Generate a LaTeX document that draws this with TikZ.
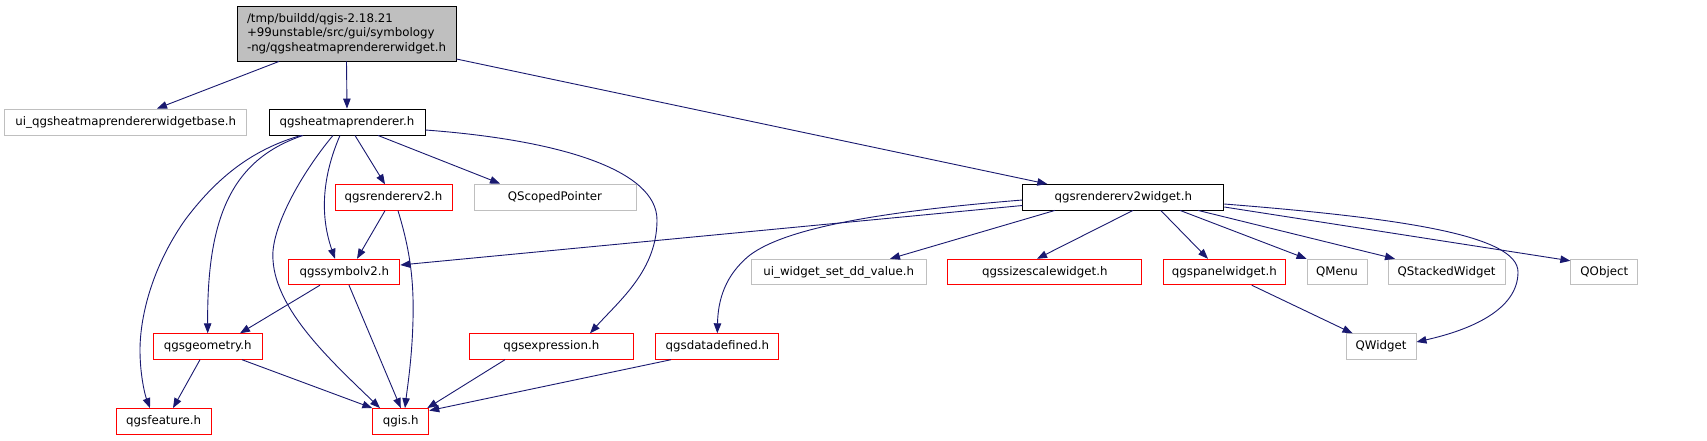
\documentclass[tikz,border=0pt]{standalone}
\usepackage{fontspec}
\setmainfont{DejaVu Sans}
\usetikzlibrary{arrows.meta}
\definecolor{edgeblue}{HTML}{191970}
\definecolor{lgray}{HTML}{BFBFBF}
\tikzset{
  box/.style={draw, rectangle, line width=0.9pt, inner sep=0pt, minimum height=25.5pt,
    font=\fontsize{11.8}{14.5}\selectfont, text=black},
  redbox/.style={box, draw=red},
  graybox/.style={box, draw=lgray},
  blackbox/.style={box, draw=black},
  edge/.style={draw=edgeblue, line width=0.9pt, -{Triangle[length=10pt,width=7.5pt]}, fill=none},
}
\begin{document}
\begin{tikzpicture}[x=1pt,y=-1pt]
\fill[white] (0,0) rectangle (1707,440);
\useasboundingbox (0,0) rectangle (1707,440);
% nodes
\node[blackbox, fill=lgray, minimum width=219pt, minimum height=55pt, text width=199pt, align=left] (main) at (346.5,33.5)
  {/tmp/buildd/qgis-2.18.21\\+99unstable/src/gui/symbology\\-ng/qgsheatmaprendererwidget.h};
\node[graybox, minimum width=242pt, minimum height=26pt] (uibase) at (125.7,122) {ui\_qgsheatmaprendererwidgetbase.h};
\node[blackbox, minimum width=156pt, minimum height=26pt] (heat) at (347,122) {qgsheatmaprenderer.h};
\node[redbox, minimum width=117pt] (rv2) at (393.5,197.5) {qgsrendererv2.h};
\node[graybox, minimum width=162pt, minimum height=26pt] (scoped) at (555,197) {QScopedPointer};
\node[redbox, minimum width=111pt] (sym) at (344.3,272) {qgssymbolv2.h};
\node[redbox, minimum width=109pt] (geom) at (207.7,346.5) {qgsgeometry.h};
\node[redbox, minimum width=95pt] (feat) at (163.7,421.3) {qgsfeature.h};
\node[redbox, minimum width=56pt] (qgis) at (400.8,421.3) {qgis.h};
\node[redbox, minimum width=164pt] (expr) at (551.3,346.5) {qgsexpression.h};
\node[redbox, minimum width=123pt] (dd) at (717.3,346.5) {qgsdatadefined.h};
\node[graybox, minimum width=175pt] (uidd) at (838.7,272) {ui\_widget\_set\_dd\_value.h};
\node[redbox, minimum width=194pt] (sizesc) at (1044.8,272) {qgssizescalewidget.h};
\node[blackbox, minimum width=201pt] (rv2w) at (1123.3,197.2) {qgsrendererv2widget.h};
\node[redbox, minimum width=122.7pt] (panel) at (1224.3,272) {qgspanelwidget.h};
\node[graybox, minimum width=60pt] (qmenu) at (1337,272) {QMenu};
\node[graybox, minimum width=117pt] (qstack) at (1446.5,272) {QStackedWidget};
\node[graybox, minimum width=67pt] (qobject) at (1604.3,272) {QObject};
\node[graybox, minimum width=70pt] (qwidget) at (1381,346.5) {QWidget};
% edges
\draw[edge] ([xshift=-67.5]main.south) -- ([xshift=31.3]uibase.north);
\draw[edge] (main.south) -- (heat.north);
\draw[edge] ([yshift=-25.5]main.east) -- ([xshift=-76]rv2w.north);
\draw[edge] ([xshift=8]heat.south) -- ([xshift=-8.5]rv2.north);
\draw[edge] ([xshift=31]heat.south) -- ([xshift=-55]scoped.north);
\draw[edge] ([yshift=-8]heat.east) .. controls (560,140) and (657,170) .. (657,220) .. controls (657,270) and (620,300) .. ([xshift=38.7]expr.north);
\draw[edge] ([xshift=-7]heat.south) .. controls (325,170) and (318,210) .. ([xshift=-9.3]sym.north);
\draw[edge] ([xshift=-14]heat.south) .. controls (300,175) and (270,230) .. (273,260) .. controls (276,310) and (330,360) .. ([xshift=-20.8]qgis.north);
\draw[edge] ([xshift=-44]heat.south) .. controls (230,160) and (207,220) .. (geom.north);
\draw[edge] ([xshift=-46]heat.south) .. controls (250,150) and (215,180) .. (185,220) .. controls (150,270) and (140,320) .. (140,350) .. controls (140,375) and (145,395) .. ([xshift=-13.7]feat.north);
\draw[edge] ([xshift=-8.5]rv2.south) -- ([xshift=12.7]sym.north);
\draw[edge] ([xshift=4.5]rv2.south) .. controls (410,250) and (414,280) .. (413,320) .. controls (412,360) and (407,390) .. ([xshift=4.2]qgis.north);
\draw[edge] ([xshift=-24.3]sym.south) -- ([xshift=32.3]geom.north);
\draw[edge] ([xshift=4.7]sym.south) -- (qgis.north);
\draw[edge] ([xshift=-7.7]geom.south) -- ([xshift=9.3]feat.north);
\draw[edge] ([xshift=34.3]geom.south) -- (qgis.north west);
\draw[edge] ([xshift=-46.3]expr.south) -- ([xshift=-2]qgis.north east);
\draw[edge] ([xshift=-46.3]dd.south) -- ([yshift=-2.5]qgis.north east);
\draw[edge] ([yshift=-8.3]rv2w.west) -- ([yshift=7]sym.east);
\draw[edge] ([yshift=-2.8]rv2w.west) .. controls (900,210) and (790,225) .. (750,255) .. controls (725,275) and (718,300) .. (dd.north);
\draw[edge] ([xshift=-68.3]rv2w.south) -- ([xshift=51.3]uidd.north);
\draw[edge] ([xshift=9.7]rv2w.south) -- ([xshift=-7.8]sizesc.north);
\draw[edge] ([xshift=37.4]rv2w.south) -- ([xshift=-16.3]panel.north);
\draw[edge] ([xshift=56.7]rv2w.south) -- (qmenu.north west);
\draw[edge] ([xshift=74.7]rv2w.south) -- ([xshift=-51.5]qstack.north);
\draw[edge] ([yshift=-9.8]rv2w.east) -- ([yshift=-2]qobject.north west);
\draw[edge] ([yshift=-6.8]rv2w.east) .. controls (1400,218) and (1518,235) .. (1518,272) .. controls (1518,310) and (1470,330) .. ([yshift=4.5]qwidget.east);
\draw[edge] ([xshift=27.4]panel.south) -- ([xshift=7]qwidget.north west);
\end{tikzpicture}
\end{document}
